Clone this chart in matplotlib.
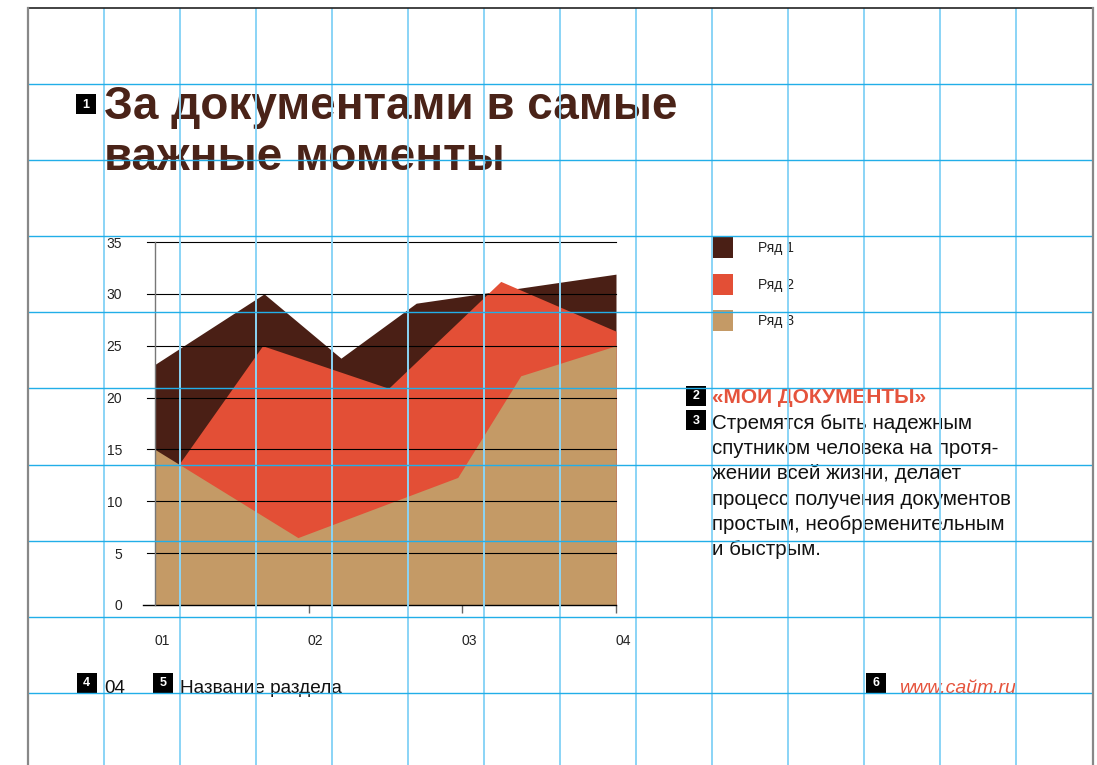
import matplotlib
matplotlib.use('Agg')
import matplotlib.pyplot as plt
import matplotlib.transforms as mtransforms
from matplotlib.patches import Rectangle

plt.rcParams['font.family'] = ['Liberation Sans', 'DejaVu Sans']

# данные графика
categories = ['01', '02', '03', '04']
series_names = ['Ряд 1', 'Ряд 2', 'Ряд 3']
row1_x = [0, 0.71, 1.21, 1.70, 3]
row1_y = [23.2, 30.0, 23.8, 29.1, 31.9]
row2_x = [0, 0.70, 1.52, 2.25, 3]
row2_y = [10.3, 25.0, 20.9, 31.2, 26.4]
row3_x = [0, 0.93, 1.97, 2.38, 3]
row3_y = [15.0, 6.5, 12.3, 22.1, 25.0]
y_ticks = [0, 5, 10, 15, 20, 25, 30, 35]

# тексты слайда
title_lines = ['За документами в самые', 'важные моменты']
heading = '«МОИ ДОКУМЕНТЫ»'
body_lines = ['Стремятся быть надежным',
              'спутником человека на протя-',
              'жении всей жизни, делает',
              'процесс получения документов',
              'простым, необременительным',
              'и быстрым.']
footer_page = '04'
footer_section = 'Название раздела'
footer_site = 'www.сайт.ru'

colors = ['#4A1F15', '#E34F36', '#C49A66']
brown = '#4A2318'
red_text = '#E5533C'

W, H = 1097, 765
fig = plt.figure(figsize=(W / 100, H / 100), dpi=100)

# фоновый слой в пикселях
bg = fig.add_axes([0, 0, 1, 1], zorder=0)
bg.set_xlim(0, W)
bg.set_ylim(H, 0)
bg.axis('off')


def num_box(cx, cy, label, size=20):
    bg.add_patch(Rectangle((cx - size / 2, cy - size / 2), size, size,
                           facecolor='black', edgecolor='none'))
    bg.text(cx, cy + 0.5, label, color='white', fontsize=9, fontweight='bold',
            ha='center', va='center')


# заголовок
num_box(86, 104, '1')
bg.text(104, 119, title_lines[0], fontsize=33, fontweight='bold', color=brown,
        ha='left', va='baseline')
bg.text(104, 170, title_lines[1], fontsize=33, fontweight='bold', color=brown,
        ha='left', va='baseline')

# легенда
for i, name in enumerate(series_names):
    top = 237 + i * 36.5
    bg.add_patch(Rectangle((712, top), 21, 21, facecolor=colors[i], edgecolor='none'))
    bg.text(758, top + 11, name, fontsize=10, color='#222222', ha='left', va='center')

# текстовый блок
num_box(696, 395.5, '2')
bg.text(712, 403, heading, fontsize=15, fontweight='bold', color=red_text,
        ha='left', va='baseline')
num_box(696, 420, '3')
for i, line in enumerate(body_lines):
    bg.text(712, 429 + i * 25.2, line, fontsize=14.8, color='#111111',
            ha='left', va='baseline')

# подвал
num_box(86.5, 682.5, '4')
bg.text(104, 693, footer_page, fontsize=13.5, color='#111111', ha='left', va='baseline')
num_box(163, 682.5, '5')
bg.text(180, 693, footer_section, fontsize=13.7, color='#111111', ha='left', va='baseline')
num_box(876, 682.5, '6')
bg.text(1016, 693, footer_site, fontsize=14, style='italic', color=red_text,
        ha='right', va='baseline')

# график
ax = fig.add_axes([155 / W, 1 - 605 / H, 461 / W, 363 / H], zorder=1)
ax.set_facecolor('none')
ax.fill_between(row1_x, row1_y, 0, color=colors[0], linewidth=0, zorder=1)
ax.fill_between(row2_x, row2_y, 0, color=colors[1], linewidth=0, zorder=2)
ax.fill_between(row3_x, row3_y, 0, color=colors[2], linewidth=0, zorder=3)
ax.set_xlim(0, 3)
ax.set_ylim(0, 35)

for v in y_ticks[1:]:
    ax.axhline(v, xmin=-0.017, xmax=1, color='black', linewidth=0.8, zorder=4, clip_on=False)
ax.axhline(0, xmin=-0.026, xmax=1, color='black', linewidth=1.0, zorder=5, clip_on=False)

for s in ['top', 'right', 'bottom']:
    ax.spines[s].set_visible(False)
ax.spines['left'].set_color('#777777')
ax.spines['left'].set_linewidth(1.0)
ax.spines['left'].set_zorder(6)

ax.set_yticks(y_ticks)
ax.set_yticklabels([str(v) for v in y_ticks], fontsize=10, color='#222222')
ax.tick_params(axis='y', length=0, pad=23.5)

ax.set_xticks([1, 2, 3])
ax.set_xticklabels([])
ax.tick_params(axis='x', length=6, width=1.0, color='#666666', direction='out')

# подписи категорий чуть правее засечек
offset = mtransforms.ScaledTranslation(7 / 100, 0, fig.dpi_scale_trans)
for i, c in enumerate(categories):
    ax.text(i, -0.099, c, fontsize=10, color='#222222', ha='center', va='center',
            transform=ax.get_xaxis_transform() + offset, clip_on=False)

# сетка-разметка поверх всего
ov = fig.add_axes([0, 0, 1, 1], zorder=5)
ov.set_xlim(0, W)
ov.set_ylim(H, 0)
ov.axis('off')
ov.patch.set_visible(False)

for k in range(13):
    x = 104 + k * 76
    ov.plot([x, x], [8, H], color='#8AD4F6', linewidth=1.4, solid_capstyle='butt')
for k in range(9):
    y = 84 + k * 76.1
    ov.plot([28, 1093], [y, y], color='#22AEE8', linewidth=1.0, solid_capstyle='butt')

# рамка листа
ov.plot([28, 1093], [8, 8], color='#222222', linewidth=1.2)
ov.plot([28, 28], [8, H], color='#888888', linewidth=1.6)
ov.plot([1093, 1093], [8, H], color='#888888', linewidth=1.6)

fig.savefig('out.png', dpi=100)
